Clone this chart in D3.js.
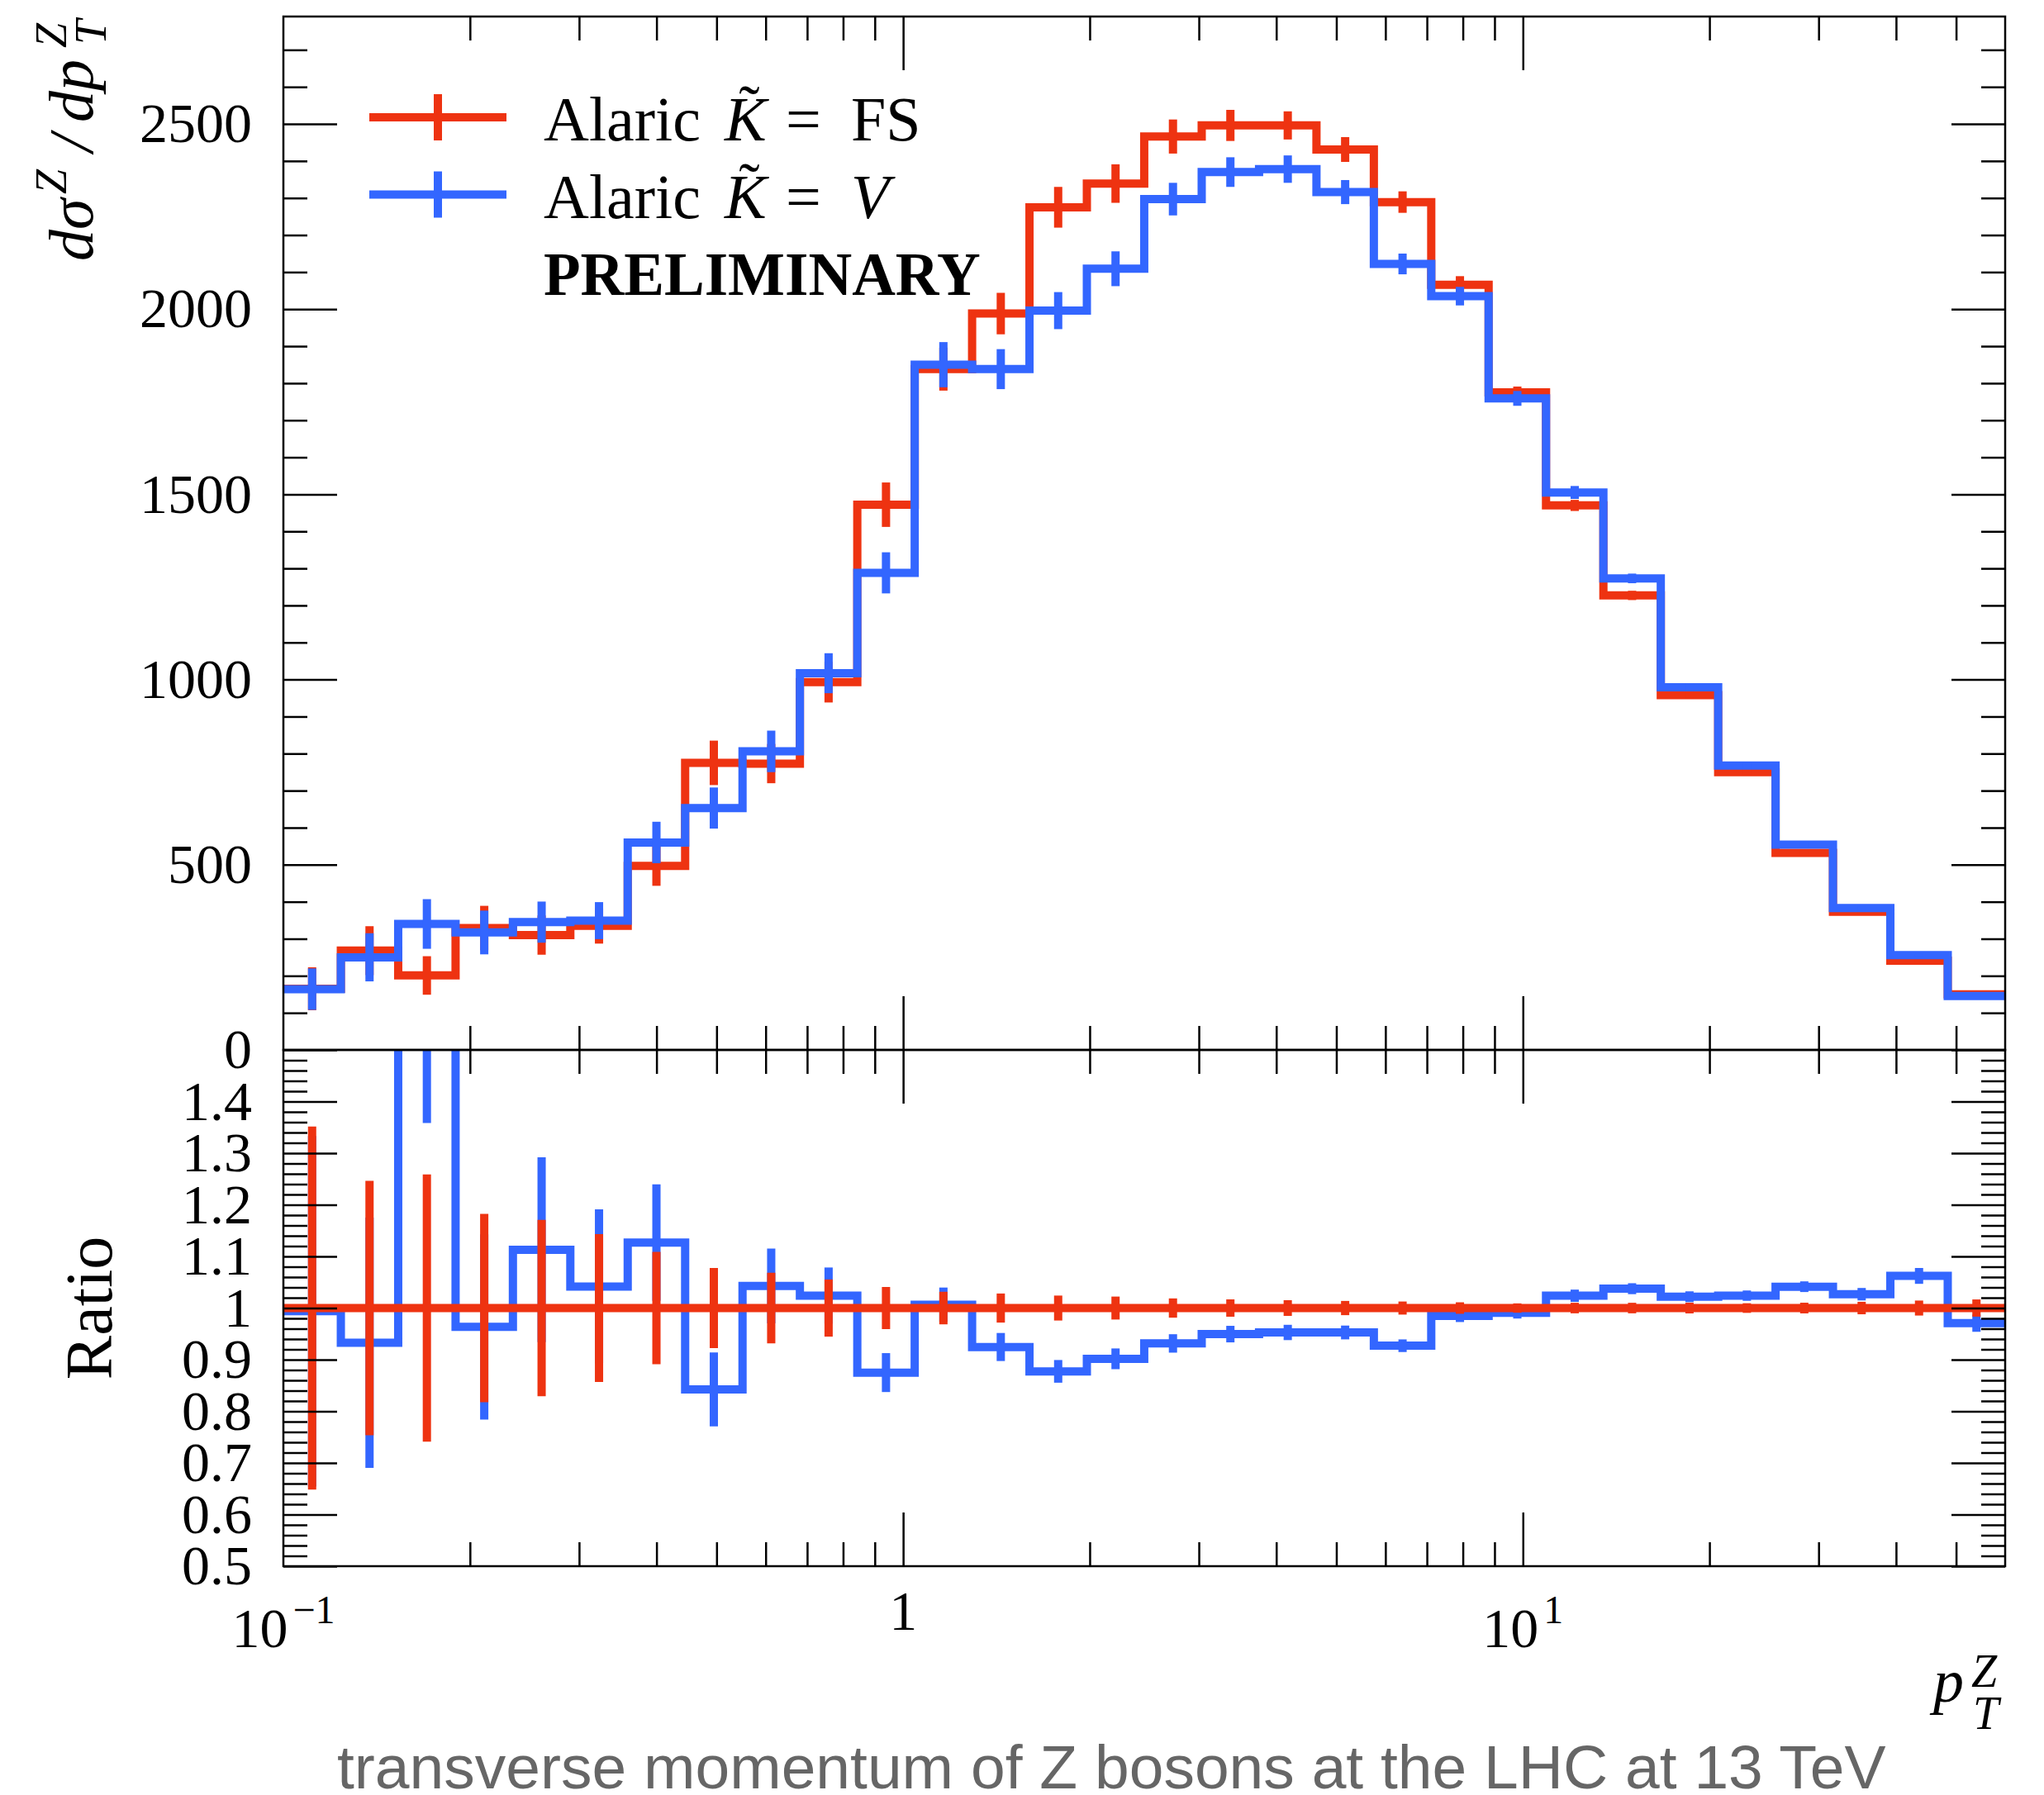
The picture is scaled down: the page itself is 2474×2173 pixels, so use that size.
<!DOCTYPE html>
<html>
<head>
<meta charset="utf-8">
<script src="https://cdn.jsdelivr.net/npm/d3@7"></script>
<style>
  body { margin: 0; background: #fff; }
  svg { display: block; }
</style>
</head>
<body>
<script>
// bin edges in pT (log spaced, 0.1 .. 60)
var binEdges = [0.1, 0.1238, 0.1532, 0.1896, 0.2346, 0.2904, 0.3594, 0.4449, 0.5506, 0.6814,
	0.8434, 1.0439, 1.292, 1.599, 1.979, 2.449, 3.032, 3.752, 4.644, 5.748,
	7.114, 8.804, 10.897, 13.486, 16.691, 20.658, 25.567, 31.644, 39.164, 48.472, 60];

// Alaric K = FS  (reference in the ratio)
var fsValues = [165, 268, 201, 329, 310, 335, 497, 775, 773, 993,
	1472, 1838, 1988, 2275, 2339, 2466, 2496, 2496, 2431, 2289,
	2066, 1775, 1470, 1227, 958, 750, 532, 373, 241, 150];
var fsErrors = [58, 66, 52, 60, 53, 48, 54, 60, 53, 55,
	60, 58, 56, 55, 52, 46, 42, 38, 33.5, 29,
	23, 16, 15, 12.5, 10, 7, 5.5, 4.5, 3.5, 2.5];

// Alaric K = V
var vValues = [164, 250, 340, 317, 345, 349, 560, 653, 806, 1017,
	1288, 1850, 1838, 1996, 2109, 2297, 2370, 2378, 2316, 2122,
	2035, 1759, 1505, 1273, 979, 768, 554, 383, 256, 145.6];
var vErrors = [56, 65, 67, 59, 55.5, 50, 56, 55.5, 56, 54,
	55.5, 61, 54, 50, 47, 44, 40, 37, 32.5, 28,
	25, 20, 17.5, 13, 10, 7.5, 5.5, 4.5, 3.7, 2.5];

// ticks and labels
var xMajorTicks = [1, 10];
var xMinorTicks = [0.2, 0.3, 0.4, 0.5, 0.6, 0.7, 0.8, 0.9, 2, 3, 4, 5, 6, 7, 8, 9, 20, 30, 40, 50];
var xTickLabels = [
	{ v: 0.1, base: '10', sup: '\u22121' },
	{ v: 1, base: '1', sup: null },
	{ v: 10, base: '10', sup: '1' }
];
var mainYMajor = [0, 500, 1000, 1500, 2000, 2500];
var mainYMinor = d3.range(100, 2800, 100).filter(function(d) { return d % 500 !== 0; });
var ratioYLabels = [0.5, 0.6, 0.7, 0.8, 0.9, 1, 1.1, 1.2, 1.3, 1.4];
var ratioYMinor = d3.range(26, 75).map(function(d) { return d / 50; }).filter(function(d) { return Math.round(d * 50) % 5 !== 0; });

var legendLabels = [
	{ name: 'Alaric ', math: '= ', tail: 'FS', italicTail: false },
	{ name: 'Alaric ', math: '= ', tail: 'V', italicTail: true }
];

var RED = '#EE3311', BLUE = '#3366FF';
var SERIF = '"Liberation Serif", "DejaVu Serif", serif';

// layout
var W = 2474, H = 2173;
var LEFT = 343, RIGHT = 2427, TOP = 20, MID = 1271, BOTTOM = 1896;
var MAJOR = 65, MINOR = 29, LW = 10, AXW = 2.5;

var svg = d3.select('body').append('svg')
	.attr('width', W)
	.attr('height', H);

var x = d3.scaleLog().domain([0.1, 60]).range([LEFT, RIGHT]);
var y = d3.scaleLinear().domain([0, 2790]).range([MID, TOP]);
var yr = d3.scaleLinear().domain([0.5, 1.5]).range([BOTTOM, MID]);

var defs = svg.append('defs');
defs.append('clipPath').attr('id', 'clipMain').append('rect')
	.attr('x', LEFT).attr('y', TOP).attr('width', RIGHT - LEFT).attr('height', MID - TOP);
defs.append('clipPath').attr('id', 'clipRatio').append('rect')
	.attr('x', LEFT).attr('y', MID).attr('width', RIGHT - LEFT).attr('height', BOTTOM - MID);

function stepPoints(vals) {
	var pts = [];
	vals.forEach(function(v, i) {
		pts.push([binEdges[i], v]);
		pts.push([binEdges[i + 1], v]);
	});
	return pts;
}

function binCentre(i) {
	return Math.sqrt(binEdges[i] * binEdges[i + 1]);
}

function drawSeries(g, yScale, vals, errs, colour) {
	var line = d3.line()
		.x(function(d) { return x(d[0]); })
		.y(function(d) { return yScale(d[1]); });
	g.append('path')
		.attr('d', line(stepPoints(vals)))
		.attr('fill', 'none')
		.attr('stroke', colour)
		.attr('stroke-width', LW);
	g.selectAll(null)
		.data(vals)
		.enter()
		.append('line')
		.attr('x1', function(d, i) { return x(binCentre(i)); })
		.attr('x2', function(d, i) { return x(binCentre(i)); })
		.attr('y1', function(d, i) { return yScale(d - errs[i]); })
		.attr('y2', function(d, i) { return yScale(d + errs[i]); })
		.attr('stroke', colour)
		.attr('stroke-width', LW);
}

// ------------------------ MAIN PANEL ------------------------
var mainG = svg.append('g').attr('clip-path', 'url(#clipMain)');
drawSeries(mainG, y, fsValues, fsErrors, RED);
drawSeries(mainG, y, vValues, vErrors, BLUE);

// ------------------------ RATIO PANEL ------------------------
var ratioG = svg.append('g').attr('clip-path', 'url(#clipRatio)');
var vRatio = vValues.map(function(d, i) { return d / fsValues[i]; });
var vRatioErr = vErrors.map(function(d, i) { return d / fsValues[i]; });
var fsRatio = fsValues.map(function() { return 1; });
var fsRatioErr = fsErrors.map(function(d, i) { return d / fsValues[i]; });
drawSeries(ratioG, yr, vRatio, vRatioErr, BLUE);
drawSeries(ratioG, yr, fsRatio, fsRatioErr, RED);

// ------------------------ AXES ------------------------
function styleAxis(g) {
	g.select('.domain').remove();
	g.selectAll('line').attr('stroke', '#000').attr('stroke-width', AXW);
	// drop the empty labels of tick-only axes
	g.selectAll('text').filter(function() { return this.textContent === ''; }).remove();
	g.selectAll('text')
		.attr('font-family', SERIF)
		.attr('font-size', 68)
		.attr('fill', '#000');
}

function addAxis(gen, tx, ty) {
	svg.append('g')
		.attr('transform', 'translate(' + tx + ',' + ty + ')')
		.call(gen)
		.call(styleAxis);
}

// x ticks: main top (down), main bottom (up), ratio top (down), ratio bottom (up)
[[TOP, 'down'], [MID, 'up'], [MID, 'down'], [BOTTOM, 'up']].forEach(function(p) {
	var mk = p[1] === 'down' ? d3.axisBottom : d3.axisTop;
	addAxis(mk(x).tickValues(xMajorTicks).tickSize(MAJOR).tickFormat(''), 0, p[0]);
	addAxis(mk(x).tickValues(xMinorTicks).tickSize(MINOR).tickFormat(''), 0, p[0]);
});

// main y
addAxis(d3.axisLeft(y).tickValues(mainYMajor).tickSize(-MAJOR).tickPadding(38).tickFormat(d3.format('d')), LEFT, 0);
addAxis(d3.axisLeft(y).tickValues(mainYMinor).tickSize(-MINOR).tickFormat(''), LEFT, 0);
addAxis(d3.axisRight(y).tickValues(mainYMajor).tickSize(-MAJOR).tickFormat(''), RIGHT, 0);
addAxis(d3.axisRight(y).tickValues(mainYMinor).tickSize(-MINOR).tickFormat(''), RIGHT, 0);

// ratio y
addAxis(d3.axisLeft(yr).tickValues(ratioYLabels).tickSize(-MAJOR).tickPadding(38).tickFormat(function(d) { return String(d); }), LEFT, 0);
addAxis(d3.axisLeft(yr).tickValues(ratioYMinor).tickSize(-MINOR).tickFormat(''), LEFT, 0);
addAxis(d3.axisRight(yr).tickValues(ratioYLabels).tickSize(-MAJOR).tickFormat(''), RIGHT, 0);
addAxis(d3.axisRight(yr).tickValues(ratioYMinor).tickSize(-MINOR).tickFormat(''), RIGHT, 0);

// frames
[[TOP, MID], [MID, BOTTOM]].forEach(function(p) {
	svg.append('rect')
		.attr('x', LEFT).attr('y', p[0])
		.attr('width', RIGHT - LEFT).attr('height', p[1] - p[0])
		.attr('fill', 'none').attr('stroke', '#000').attr('stroke-width', AXW);
});

// x tick labels (with superscripts)
var xl = svg.selectAll('.xlabel')
	.data(xTickLabels)
	.enter()
	.append('text')
	.attr('class', 'xlabel')
	.attr('x', function(d) { return x(d.v); })
	.attr('y', function(d) { return d.sup ? 1994 : 1973; })
	.attr('text-anchor', 'middle')
	.attr('font-family', SERIF)
	.attr('font-size', 68);
xl.append('tspan').text(function(d) { return d.base; });
xl.filter(function(d) { return d.sup; })
	.append('tspan')
	.attr('dx', 6)
	.attr('dy', -29)
	.attr('font-size', 48)
	.text(function(d) { return d.sup; });

// ------------------------ AXIS TITLES ------------------------
var ylab = svg.append('g')
	.attr('transform', 'translate(112,0) rotate(-90)')
	.attr('font-family', SERIF)
	.attr('font-style', 'italic');
ylab.append('text').attr('x', -316).attr('y', 0).attr('font-size', 76).text('d\u03C3');
ylab.append('text').attr('x', -235).attr('y', -32).attr('font-size', 54).text('Z');
ylab.append('text').attr('x', -184).attr('y', 0).attr('font-size', 76).text('/');
ylab.append('text').attr('x', -148).attr('y', 0).attr('font-size', 76).text('dp');
ylab.append('text').attr('x', -58).attr('y', -32).attr('font-size', 54).text('Z');
ylab.append('text').attr('x', -54).attr('y', 16).attr('font-size', 54).text('T');

svg.append('text')
	.attr('transform', 'translate(135,' + yr(1) + ') rotate(-90)')
	.attr('text-anchor', 'middle')
	.attr('font-family', SERIF)
	.attr('font-size', 80)
	.text('Ratio');

var xlab = svg.append('g')
	.attr('font-family', SERIF)
	.attr('font-style', 'italic');
xlab.append('text').attr('x', 2340).attr('y', 2060).attr('font-size', 74).text('p');
xlab.append('text').attr('x', 2386).attr('y', 2042).attr('font-size', 56).text('Z');
xlab.append('text').attr('x', 2388).attr('y', 2093).attr('font-size', 56).text('T');

// ------------------------ LEGEND ------------------------
var legend = svg.append('g');
[RED, BLUE].forEach(function(c, i) {
	var ly = 142 + i * 93.5;
	legend.append('line')
		.attr('x1', 447).attr('x2', 613).attr('y1', ly).attr('y2', ly)
		.attr('stroke', c).attr('stroke-width', LW);
	legend.append('line')
		.attr('x1', 530).attr('x2', 530).attr('y1', ly - 28).attr('y2', ly + 28)
		.attr('stroke', c).attr('stroke-width', LW);

	var base = 170 + i * 93.5;
	var t = legend.append('text')
		.attr('y', base)
		.attr('font-family', SERIF)
		.attr('font-size', 76);
	t.append('tspan').attr('x', 658).text(legendLabels[i].name);
	t.append('tspan').attr('x', 877).attr('font-style', 'italic').text('K');
	t.append('tspan').attr('x', 951).text(legendLabels[i].math);
	t.append('tspan').attr('x', 1030)
		.attr('font-style', legendLabels[i].italicTail ? 'italic' : 'normal')
		.text(legendLabels[i].tail);
	// tilde over K
	legend.append('text')
		.attr('x', 907).attr('y', base - 14)
		.attr('text-anchor', 'middle')
		.attr('font-family', SERIF)
		.attr('font-size', 76)
		.text('\u02DC');
});
legend.append('text')
	.attr('x', 658).attr('y', 357)
	.attr('font-family', SERIF)
	.attr('font-weight', 'bold')
	.attr('font-size', 73)
	.text('PRELIMINARY');

// ------------------------ TITLE ------------------------
svg.append('text')
	.attr('x', 408).attr('y', 2165)
	.attr('font-family', '"Liberation Sans", Arial, sans-serif')
	.attr('font-size', 75)
	.attr('fill', '#666666')
	.text('transverse momentum of Z bosons at the LHC at 13 TeV');
</script>
</body>
</html>
